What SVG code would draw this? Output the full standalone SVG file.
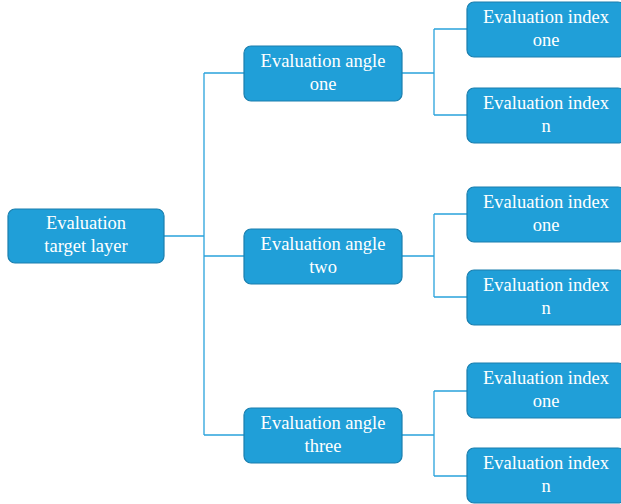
<svg xmlns="http://www.w3.org/2000/svg" width="621" height="504" viewBox="0 0 621 504">
<style>
.box{fill:#209fd8;stroke:#1b7fae;stroke-width:1.2}
.t{font-family:"Liberation Serif",serif;font-size:18.5px;fill:#ffffff;text-anchor:middle}
.c{fill:none;stroke:#2aa3dc;stroke-width:1.3}
</style>
<rect width="621" height="504" fill="#ffffff"/>
<g id="connectors">
<path class="c" d="M164 236H204M204 73V435M204 73H244M204 256H244M204 435H244"/>
<path class="c" d="M402 73H434M434 29V115M434 29H467M434 115H467"/>
<path class="c" d="M402 256H434M434 214V297M434 214H467M434 297H467"/>
<path class="c" d="M402 435H434M434 391V476M434 391H467M434 476H467"/>
</g>
<g id="root"><rect class="box" x="8" y="209" width="156" height="54" rx="7"/><text class="t" x="86" y="229">Evaluation</text><text class="t" x="86" y="252">target layer</text></g>
<g id="angle1"><rect class="box" x="244" y="46" width="158" height="55" rx="7"/><text class="t" x="323" y="67">Evaluation angle</text><text class="t" x="323" y="90">one</text></g>
<g id="angle2"><rect class="box" x="244" y="229" width="158" height="55" rx="7"/><text class="t" x="323" y="250">Evaluation angle</text><text class="t" x="323" y="273">two</text></g>
<g id="angle3"><rect class="box" x="244" y="408" width="158" height="55" rx="7"/><text class="t" x="323" y="429">Evaluation angle</text><text class="t" x="323" y="452">three</text></g>
<g id="index1a"><rect class="box" x="467" y="2" width="158" height="55" rx="7"/><text class="t" x="546" y="23">Evaluation index</text><text class="t" x="546" y="46">one</text></g>
<g id="index1n"><rect class="box" x="467" y="88" width="158" height="55" rx="7"/><text class="t" x="546" y="109">Evaluation index</text><text class="t" x="546" y="132">n</text></g>
<g id="index2a"><rect class="box" x="467" y="187" width="158" height="55" rx="7"/><text class="t" x="546" y="208">Evaluation index</text><text class="t" x="546" y="231">one</text></g>
<g id="index2n"><rect class="box" x="467" y="270" width="158" height="55" rx="7"/><text class="t" x="546" y="291">Evaluation index</text><text class="t" x="546" y="314">n</text></g>
<g id="index3a"><rect class="box" x="467" y="363" width="158" height="55" rx="7"/><text class="t" x="546" y="384">Evaluation index</text><text class="t" x="546" y="407">one</text></g>
<g id="index3n"><rect class="box" x="467" y="448" width="158" height="55" rx="7"/><text class="t" x="546" y="469">Evaluation index</text><text class="t" x="546" y="492">n</text></g>
</svg>
